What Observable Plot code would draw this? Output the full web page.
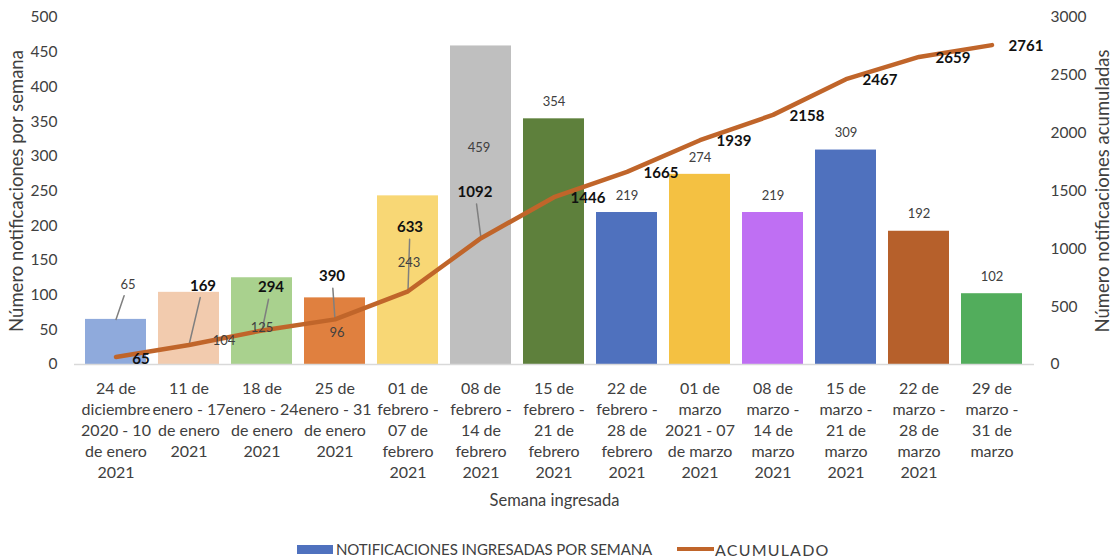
<!DOCTYPE html>
<html><head><meta charset="utf-8">
<script src="https://cdn.jsdelivr.net/npm/d3@7"></script>
<script src="https://cdn.jsdelivr.net/npm/@observablehq/plot@0.6"></script>
<style>
body{margin:0;background:#fff;font-family:Lato,"Open Sans",sans-serif;}
#wrap{position:relative;width:1118px;height:559px;overflow:hidden;}
#chart{position:absolute;left:0;top:0;}
#legend{position:absolute;top:541px;left:297px;display:flex;align-items:center;font-size:15px;color:#404040;white-space:nowrap;height:16px;}
#legend .sw{display:inline-block;}
</style></head><body>
<div id="wrap"><div id="chart"></div>
<div id="legend">
<span class="sw" style="width:36px;height:9px;background:#4F71BE;margin-right:3px"></span><span style="letter-spacing:-0.1px">NOTIFICACIONES INGRESADAS POR SEMANA</span>
<span class="sw" style="width:37px;height:4px;background:#C0652A;margin-left:25px;margin-right:1px"></span><span style="letter-spacing:1.2px;font-size:16px">ACUMULADO</span>
</div></div>
<script>
// ---- data ----
const weeks = [
  "24 de\ndiciembre\n2020 - 10\nde enero\n2021",
  "11 de\nenero - 17\nde enero\n2021",
  "18 de\nenero - 24\nde enero\n2021",
  "25 de\nenero - 31\nde enero\n2021",
  "01 de\nfebrero -\n07 de\nfebrero\n2021",
  "08 de\nfebrero -\n14 de\nfebrero\n2021",
  "15 de\nfebrero -\n21 de\nfebrero\n2021",
  "22 de\nfebrero -\n28 de\nfebrero\n2021",
  "01 de\nmarzo\n2021 - 07\nde marzo\n2021",
  "08 de\nmarzo -\n14 de\nmarzo\n2021",
  "15 de\nmarzo -\n21 de\nmarzo\n2021",
  "22 de\nmarzo -\n28 de\nmarzo\n2021",
  "29 de\nmarzo -\n31 de\nmarzo"
];
const weekly = [65, 104, 125, 96, 243, 459, 354, 219, 274, 219, 309, 192, 102];
const cumulative = [65, 169, 294, 390, 633, 1092, 1446, 1665, 1939, 2158, 2467, 2659, 2761];
const leftTicks = [0, 50, 100, 150, 200, 250, 300, 350, 400, 450, 500];
const rightTicks = [0, 500, 1000, 1500, 2000, 2500, 3000];
const titles = {left: "Número notificaciones por semana", right: "Número notificaciones acumuladas", x: "Semana ingresada"};

// ---- styles / layout ----
const barColors = ["#8FAADC","#F2CBAE","#A9D18E","#E0803F","#F8D775","#BFBFBF","#5E803C","#4F71BE","#F4C142","#BF6FF3","#4F71BE","#B6602B","#52AD5C"];
const lineColor = "#C0652A";
const ratio = 3000 / 500;
const barNudge = [[12,-35],[35,49],[0,50],[2,35],[1,67],[-2,102],[0,-17],[0,-17],[0,-17],[0,-17],[0,-17],[0,-17],[0,-17]];
const cumNudge = [[25,2],[14,-59],[9,-43],[-3,-43],[2,-64],[-6,-46],[34,1],[34,1],[34,1],[34,1],[34,1],[34,1],[34,1]];
const barLeaders = [0];
const cumLeaders = [1,2,3,4,5];

const rows = weeks.map((w, i) => ({week: w, weekly: weekly[i], cum: cumulative[i], cumY: cumulative[i] / ratio, i}));

const lineShape = {draw(ctx, l) { ctx.moveTo(0, 0); ctx.lineTo(0, -l); }};
function leader(d, nudge, yField) {
  const [dx, dy] = nudge;
  const h = Math.hypot(dx, dy);
  const len = h - 12;
  const rot = Math.atan2(dx, -dy) * 180 / Math.PI;
  return Plot.vector([d], {x: "week", y: yField, length: len, rotate: rot, anchor: "start", shape: lineShape, stroke: "#7F7F7F", strokeWidth: 1.5});
}

const marks = [
  Plot.barY(rows, {x: "week", y: "weekly", fill: d => barColors[d.i]}),
  Plot.ruleY([0], {stroke: "#D9D9D9", strokeWidth: 1.5}),
  ...barLeaders.map(i => leader(rows[i], barNudge[i], "weekly")),
  ...cumLeaders.map(i => leader(rows[i], cumNudge[i], "cumY")),
  Plot.line(rows, {x: "week", y: "cumY", stroke: lineColor, strokeWidth: 4.5, strokeLinejoin: "round", strokeLinecap: "round"}),
  ...rows.map(d => Plot.text([d], {x: "week", y: "weekly", text: d => String(d.weekly), dx: barNudge[d.i][0], dy: barNudge[d.i][1], fontSize: 13, fill: "#404040"})),
  ...rows.map(d => Plot.text([d], {x: "week", y: "cumY", text: d => String(d.cum), dx: cumNudge[d.i][0], dy: cumNudge[d.i][1], fontSize: 15, fontWeight: "bold", fill: "#111"})),
  Plot.axisY(leftTicks, {anchor: "left", tickSize: 0, tickPadding: 17, fontSize: 15.5, fill: "#404040", label: null}),
  Plot.axisY(rightTicks.map(v => v / ratio), {anchor: "right", tickSize: 0, tickPadding: 16, fontSize: 15.5, fill: "#404040",
    tickFormat: d => String(Math.round(d * ratio)), label: null}),
  Plot.axisX({tickSize: 0, tickPadding: 15, fontSize: 16, lineHeight: 1.31, fill: "#404040", label: null}),
  Plot.text([titles.left], {frameAnchor: "left", rotate: -90, dx: -57, textAnchor: "middle", lineAnchor: "middle", fontSize: 18.5, fill: "#404040"}),
  Plot.text([titles.right], {frameAnchor: "right", rotate: -90, dx: 69, textAnchor: "middle", lineAnchor: "middle", fontSize: 18.5, fill: "#404040"}),
  Plot.text([titles.x], {frameAnchor: "bottom", dy: 136, textAnchor: "middle", lineAnchor: "middle", fontSize: 16.5, fill: "#404040"})
];

const chart = Plot.plot({
  width: 1118,
  height: 525,
  marginLeft: 74,
  marginRight: 84,
  marginTop: 17,
  marginBottom: 161,
  style: {fontFamily: "Lato, 'Open Sans', sans-serif", fontSize: "16px", color: "#404040", background: "#fff"},
  x: {domain: weeks, paddingInner: 0.16, paddingOuter: 0.08},
  y: {domain: [0, 500]},
  color: {type: "identity"},
  marks
});
document.getElementById("chart").appendChild(chart);
</script>
</body></html>
